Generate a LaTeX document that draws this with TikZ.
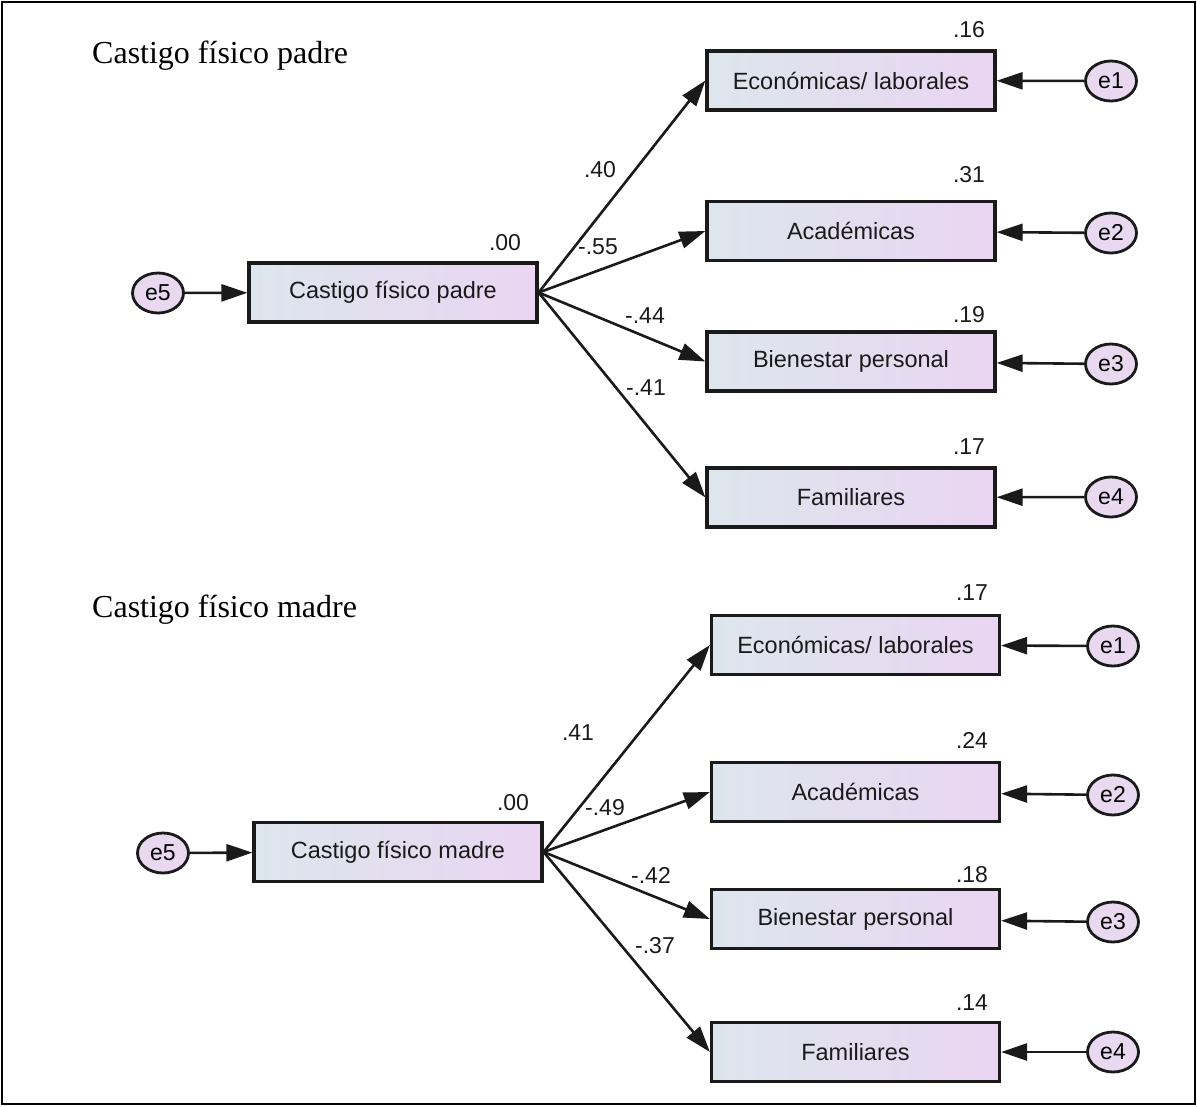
\documentclass[tikz,border=0pt]{standalone}
\usepackage{fontspec}
\setmainfont{Liberation Serif}
\setsansfont{Liberation Sans}
\usetikzlibrary{arrows.meta,shapes.geometric}
\definecolor{boxleft}{HTML}{DDE6EC}
\definecolor{boxright}{HTML}{EAD5F2}
\definecolor{errfill}{HTML}{E8D8F0}
\definecolor{ink}{HTML}{1A1A1A}
\tikzset{
  var/.style={draw=ink, line width=3.2pt, minimum width=288pt, minimum height=59pt,
    inner sep=0pt, left color=boxleft, right color=boxright,
    font=\sffamily\fontsize{23.5}{26}\selectfont, text=ink},
  err/.style={ellipse, draw=ink, line width=2.8pt, fill=errfill, minimum width=51pt,
    minimum height=40pt, inner sep=0pt, font=\sffamily\fontsize{23}{26}\selectfont},
  num/.style={inner sep=0pt, font=\sffamily\fontsize{23}{26}\selectfont, text=ink},
  titulo/.style={anchor=base west, inner sep=0pt, font=\fontsize{32}{36}\selectfont},
  efecto/.style={draw=ink, line width=2.6pt, -{Triangle[length=26pt,width=17pt]}}
}

\begin{document}
\begin{tikzpicture}[x=1pt,y=-1pt]
  \useasboundingbox (0,0) rectangle (1197,1106);
  \draw[line width=2.5pt] (2,2) rectangle (1195,1104);

  % castigo fisico padre
  \node[titulo] (ptitulo) at (92,63) {Castigo físico padre};
  \node[var] (pfuente) at (393,292.5) {Castigo físico padre};
  \node[num] (pr0) at (505,243) {.00};
  \node[err] (pe5) at (158,293) {e5};
  \draw[efecto] (pe5) -- (pfuente);
  \foreach \k/\yy/\txt/\ry/\rr/\ey/\cx/\cy/\cc in {
    1/80.5/{Económicas/ laborales}/30/.16/81/600/170/.40,
    2/231/Académicas/175/.31/233/598/247/-.55,
    3/361.5/Bienestar personal/315/.19/364/645/316/-.44,
    4/497.5/Familiares/447/.17/497/646/388/-.41}
  {
    \node[var] (pt\k) at (851,\yy) {\txt};
    \node[num] (pr\k) at (969,\ry) {\rr};
    \node[err] (pe\k) at (1111,\ey) {e\k};
    \node[num] (pc\k) at (\cx,\cy) {\cc};
    \draw[efecto] (pfuente.east) -- (pt\k.west);
    \draw[efecto] (pe\k) -- (pt\k);
  }

  % castigo fisico madre
  \node[titulo] (mtitulo) at (92,617) {Castigo físico madre};
  \node[var] (mfuente) at (398,852) {Castigo físico madre};
  \node[num] (mr0) at (513,803) {.00};
  \node[err] (me5) at (163,853) {e5};
  \draw[efecto] (me5) -- (mfuente);
  \foreach \k/\yy/\txt/\ry/\rr/\ey/\cx/\cy/\cc in {
    1/645/{Económicas/ laborales}/593/.17/646/578/733/.41,
    2/792/Académicas/740/.24/795/605/808/-.49,
    3/919/Bienestar personal/875/.18/922/651/875/-.42,
    4/1052/Familiares/1003/.14/1052/655/946/-.37}
  {
    \node[var] (mt\k) at (855.5,\yy) {\txt};
    \node[num] (mr\k) at (972,\ry) {\rr};
    \node[err] (me\k) at (1113,\ey) {e\k};
    \node[num] (mc\k) at (\cx,\cy) {\cc};
    \draw[efecto] (mfuente.east) -- (mt\k.west);
    \draw[efecto] (me\k) -- (mt\k);
  }
\end{tikzpicture}
\end{document}
